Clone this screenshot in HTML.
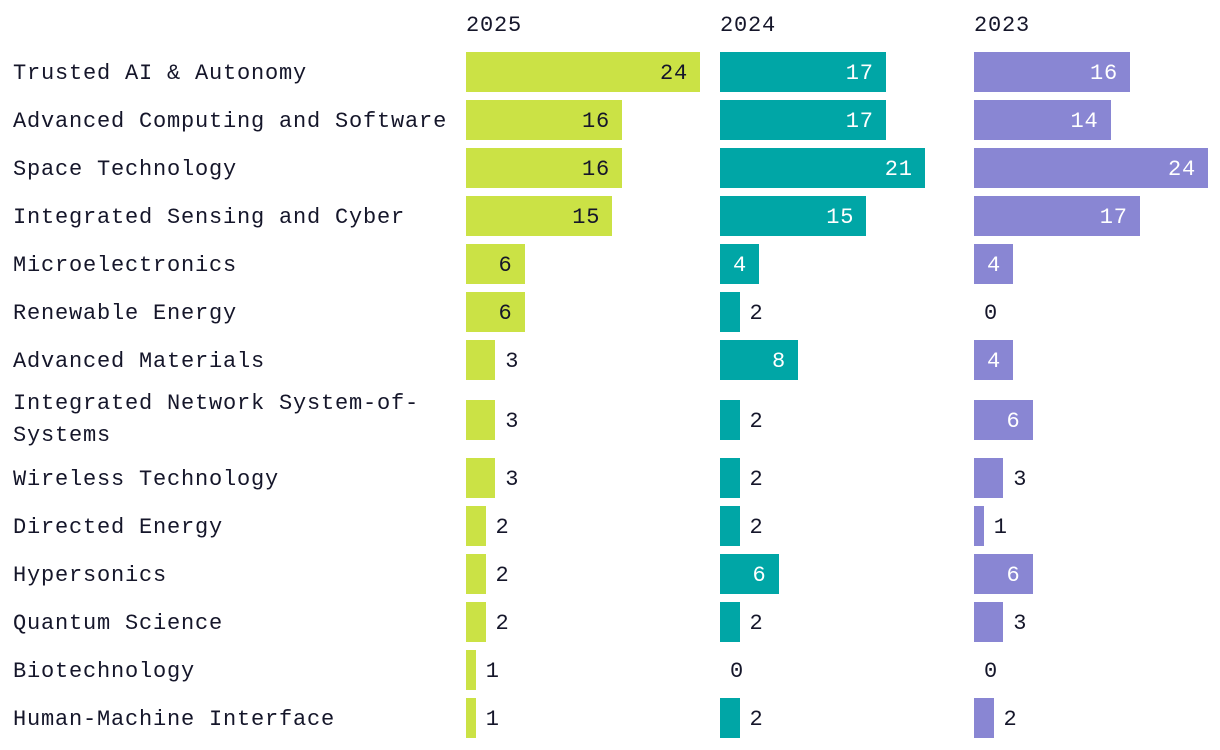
<!DOCTYPE html>
<html><head><meta charset="utf-8"><style>
body{margin:0;width:1220px;height:750px;background:#fff;overflow:hidden;font-family:"Liberation Mono","DejaVu Sans Mono",monospace;color:#15162a}
#chart{position:relative;width:1220px;height:750px}
.t{position:absolute;font-size:22px;letter-spacing:0.8px;white-space:nowrap;line-height:32px}
.b{position:absolute;height:40px}
</style></head><body>
<div id="chart"></div>
<script>
const categories=["Trusted AI & Autonomy","Advanced Computing and Software","Space Technology","Integrated Sensing and Cyber","Microelectronics","Renewable Energy","Advanced Materials","Integrated Network System-of-<br>Systems","Wireless Technology","Directed Energy","Hypersonics","Quantum Science","Biotechnology","Human-Machine Interface"];
const years=["2025","2024","2023"];
const v2025=[24,16,16,15,6,6,3,3,3,2,2,2,1,1];
const v2024=[17,17,21,15,4,2,8,2,2,2,6,2,0,2];
const v2023=[16,14,24,17,4,0,4,6,3,1,6,3,0,2];
const series=[v2025,v2024,v2023];
const colors=["#cbe245","#00a6a6","#8986d3"];
const inText=["#15162a","#fff","#fff"];
const panelX=[466,720,974];
const pxPerUnit=9.75;
const chartEl=document.getElementById('chart');
function xScale(v){return v*pxPerUnit;}
function add(cls,css,html){const d=document.createElement('div');d.className=cls;d.style.cssText=css;if(html!==undefined)d.innerHTML=html;chartEl.appendChild(d);return d;}
years.forEach((y,j)=>{
  const h=add('t',`left:${panelX[j]}px;top:10px`,y);
  
  
});
let rowY=52;
categories.forEach((cat,i)=>{
  const two=cat.includes('<br>');
  const rowH=two?70:48;
  const barTop=two?rowY+12:rowY;
  const lab=add('t',`left:13px;top:${two?rowY:rowY+6}px`,cat);
  
  
  series.forEach((s,j)=>{
    const v=s[i],w=xScale(v);
    const b=add('b',`left:${panelX[j]}px;top:${barTop}px;width:${w}px;background:${colors[j]}`);
    
    
    let t;
    if(v>=4){t=add('t',`left:${panelX[j]}px;width:${w-12}px;text-align:right;top:${barTop+6}px;color:${inText[j]}`,v);}
    else{t=add('t',`left:${panelX[j]+w+10}px;top:${barTop+6}px`,v);}
    
    
  });
  rowY+=rowH;
});
</script>
</body></html>
